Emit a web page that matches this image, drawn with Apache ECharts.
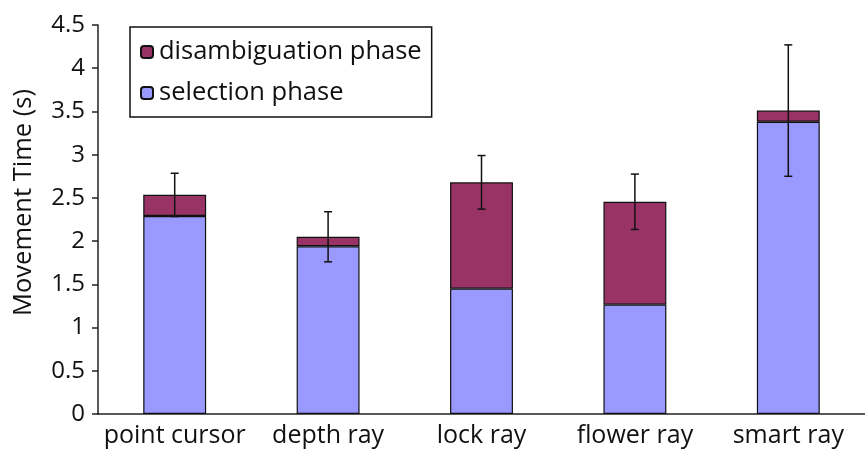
<!DOCTYPE html>
<html>
<head>
<meta charset="utf-8">
<script src="https://cdn.jsdelivr.net/npm/echarts@6/dist/echarts.min.js"></script>
<style>
  html, body { margin: 0; padding: 0; background: #fff; }
  #chart { width: 865px; height: 452px; }
</style>
</head>
<body>
<div id="chart"></div>
<script>
// Mean movement time per technique, split into the two phases (seconds)
const categories = ['point cursor', 'depth ray', 'lock ray', 'flower ray', 'smart ray'];
const selectionPhase = [2.29, 1.94, 1.45, 1.265, 3.38];
const disambiguationPhase = [0.245, 0.11, 1.23, 1.19, 0.13];
// Half-length of the error bar drawn around each total
const errorHalf = [0.25, 0.29, 0.31, 0.32, 0.76];
const yTicks = { min: 0, max: 4.5, step: 0.5 };

const FONT = 'Open Sans';
const totals = selectionPhase.map((v, i) => v + disambiguationPhase[i]);
const errorData = totals.map((t, i) => [i, t - errorHalf[i], t + errorHalf[i]]);

const chart = echarts.init(document.getElementById('chart'));
chart.setOption({
  animation: false,
  textStyle: { fontFamily: FONT },
  grid: { left: 98, top: 25, bottom: 38, width: 773 },
  legend: {
    orient: 'vertical',
    left: 130,
    top: 27,
    padding: [12, 10, 11, 10],
    itemGap: 15,
    itemWidth: 12,
    itemHeight: 12,
    borderColor: '#111',
    borderWidth: 1.5,
    data: ['disambiguation phase', 'selection phase'],
    textStyle: { fontFamily: FONT, fontSize: 25.5, color: '#111', padding: [0, 0, 0, 1] }
  },
  xAxis: {
    type: 'category',
    data: categories,
    axisLine: { lineStyle: { color: '#222', width: 1.5 } },
    axisTick: { length: 7, lineStyle: { color: '#222', width: 1.5 } },
    axisLabel: { interval: 0, fontFamily: FONT, fontSize: 25, color: '#111', margin: 9 }
  },
  yAxis: {
    type: 'value',
    min: yTicks.min,
    max: yTicks.max,
    interval: yTicks.step,
    name: 'Movement Time (s)',
    nameLocation: 'middle',
    nameGap: 61,
    nameTextStyle: { fontFamily: FONT, fontSize: 25.5, color: '#111', padding: [0, 0, 0, 34] },
    splitLine: { show: false },
    axisLine: { show: true, lineStyle: { color: '#222', width: 1.5 } },
    axisTick: { show: true, length: 6, lineStyle: { color: '#222', width: 1.5 } },
    axisLabel: { fontFamily: FONT, fontSize: 24, color: '#111', margin: 13 }
  },
  series: [
    {
      name: 'selection phase',
      type: 'bar',
      stack: 'time',
      barWidth: '41%',
      data: selectionPhase,
      itemStyle: { color: '#9999ff', borderColor: '#111', borderWidth: 1.2 }
    },
    {
      name: 'disambiguation phase',
      type: 'bar',
      stack: 'time',
      data: disambiguationPhase,
      itemStyle: { color: '#993366', borderColor: '#111', borderWidth: 1.2 }
    },
    {
      type: 'custom',
      name: 'error',
      z: 10,
      data: errorData,
      renderItem: function (params, api) {
        const lo = api.coord([api.value(0), api.value(1)]);
        const hi = api.coord([api.value(0), api.value(2)]);
        const cap = 4;
        const style = { stroke: '#111', lineWidth: 1.5 };
        return {
          type: 'group',
          children: [
            { type: 'line', shape: { x1: hi[0], y1: hi[1], x2: lo[0], y2: lo[1] }, style },
            { type: 'line', shape: { x1: hi[0] - cap, y1: hi[1], x2: hi[0] + cap, y2: hi[1] }, style },
            { type: 'line', shape: { x1: lo[0] - cap, y1: lo[1], x2: lo[0] + cap, y2: lo[1] }, style }
          ]
        };
      }
    }
  ]
});
</script>
</body>
</html>
